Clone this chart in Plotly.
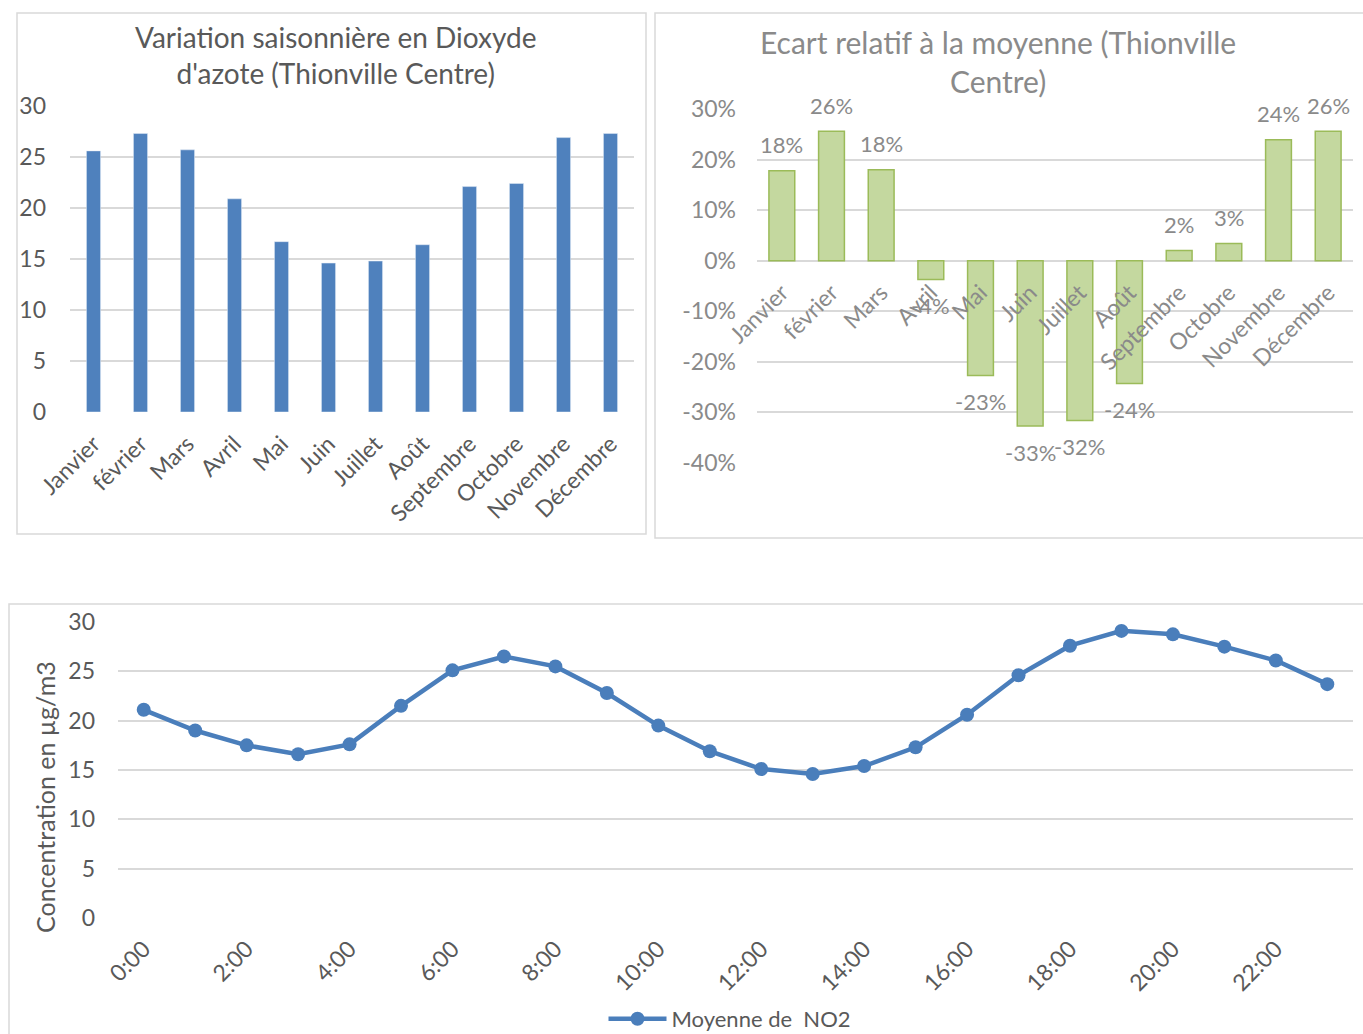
import plotly.graph_objects as go

# ---- data ----
months = ["Janvier", "février", "Mars", "Avril", "Mai", "Juin", "Juillet",
          "Août", "Septembre", "Octobre", "Novembre", "Décembre"]
no2_monthly = [25.6, 27.3, 25.7, 20.9, 16.7, 14.6, 14.8, 16.4, 22.1, 22.4, 26.9, 27.3]
rel_gap = [0.178, 0.256, 0.180, -0.037, -0.227, -0.327, -0.316, -0.243,
           0.020, 0.034, 0.239, 0.256]
rel_ticks = [0.3, 0.2, 0.1, 0.0, -0.1, -0.2, -0.3, -0.4]
rel_tick_text = ["30%", "20%", "10%", "0%", "-10%", "-20%", "-30%", "-40%"]
hours = [f"{h}:00" for h in range(24)]
no2_hourly = [21.1, 19.0, 17.5, 16.6, 17.6, 21.5, 25.1, 26.5, 25.5, 22.8, 19.5, 16.9,
              15.1, 14.6, 15.4, 17.3, 20.6, 24.6, 27.6, 29.1, 28.75, 27.5, 26.1, 23.7]
hour_ticks = [f"{h}:00" for h in range(0, 24, 2)]

title_left = "Variation saisonnière en Dioxyde<br>d'azote (Thionville Centre)"
title_right = "Ecart relatif à la moyenne (Thionville<br>Centre)"
y_title_bottom = "Concentration en µg/m3"
legend_name = "Moyenne de \u00a0NO2"

W, H = 1363, 1034
FONT = "Lato"
DARK = "#595959"
LIGHT = "#8a8a8a"
GRID = "#d9d9d9"
BLUE = "#4f81bd"


def px(x):
    return x / W


def py(y):
    return 1 - y / H


fig = go.Figure()

# top-left: monthly NO2 bars
fig.add_trace(go.Bar(x=months, y=no2_monthly, marker_color=BLUE, width=0.3,
                     xaxis="x", yaxis="y", showlegend=False))

# top-right: relative gap bars
fig.add_trace(go.Bar(x=months, y=rel_gap, marker=dict(color="#c4d89f",
                     line=dict(color="#9bbb59", width=1.5)), width=0.52,
                     xaxis="x2", yaxis="y2", showlegend=False))

# bottom: hourly profile
fig.add_trace(go.Scatter(x=hours, y=no2_hourly, mode="lines+markers", name=legend_name,
                         line=dict(color="#4a7ebb", width=4.5),
                         marker=dict(size=14, color="#4a7ebb"),
                         xaxis="x3", yaxis="y3"))

dom_y2 = [py(463), py(109)]
r2 = [-0.4, 0.3]
zero_pos = dom_y2[0] + (0 - r2[0]) / (r2[1] - r2[0]) * (dom_y2[1] - dom_y2[0])

tick_font = dict(family=FONT, size=23, color=DARK)
tick_font_light = dict(family=FONT, size=23, color=LIGHT)

fig.update_layout(
    width=W, height=H, margin=dict(l=0, r=0, t=0, b=0, autoexpand=False),
    paper_bgcolor="white", plot_bgcolor="white",
    font=dict(family=FONT, color=DARK),
    xaxis=dict(domain=[px(70), px(634)], anchor="y", showgrid=False, zeroline=False,
               showline=False, ticks="", tickangle=-45, tickfont=tick_font,
               ticklabelstandoff=13, automargin=False),
    yaxis=dict(domain=[py(412), py(106)], anchor="x", range=[0, 30], dtick=5,
               gridcolor=GRID, gridwidth=1.5, zeroline=False, showline=False,
               tickfont=tick_font, ticklabelstandoff=23, automargin=False),
    xaxis2=dict(domain=[px(757), px(1353)], anchor="free", position=zero_pos,
                showgrid=False, zeroline=False, showline=False, ticks="",
                tickangle=-45, tickfont=tick_font_light, ticklabelstandoff=13,
                automargin=False),
    yaxis2=dict(domain=dom_y2, anchor="x2", range=r2, tickmode="array",
                tickvals=rel_ticks, ticktext=rel_tick_text,
                gridcolor=GRID, gridwidth=1.5, zeroline=False, showline=False,
                tickfont=tick_font_light, ticklabelstandoff=20, automargin=False),
    xaxis3=dict(domain=[px(118), px(1353)], anchor="y3", showgrid=False, zeroline=False,
                showline=False, ticks="", tickangle=-45, tickmode="array",
                tickvals=hour_ticks, ticktext=hour_ticks, tickfont=tick_font,
                range=[-0.5, len(hours) - 0.5], ticklabelstandoff=12,
                automargin=False),
    yaxis3=dict(domain=[py(918), py(622)], anchor="x3", range=[0, 30], dtick=5,
                gridcolor=GRID, gridwidth=1.5, zeroline=False, showline=False,
                tickfont=tick_font, ticklabelstandoff=22, automargin=False),
    showlegend=True,
    legend=dict(x=px(730), y=py(1019), xanchor="center", yanchor="middle",
                orientation="h", font=dict(family=FONT, size=22, color=DARK),
                bgcolor="rgba(0,0,0,0)", itemwidth=58),
    bargap=0.5,
)

# panel frames
for x0, y0, x1, y1 in [(17, 13, 646, 534), (655, 13, 1366, 538), (9, 604, 1366, 1038)]:
    fig.add_shape(type="rect", xref="paper", yref="paper",
                  x0=px(x0), y0=py(y1), x1=px(x1), y1=py(y0),
                  line=dict(color=GRID, width=1.5), fillcolor="rgba(0,0,0,0)", layer="below")

# chart titles
fig.add_annotation(text=title_left, xref="paper", yref="paper", x=px(335), y=py(55),
                   showarrow=False, font=dict(family=FONT, size=28, color=DARK),
                   xanchor="center", yanchor="middle")
fig.add_annotation(text=title_right, xref="paper", yref="paper", x=px(998), y=py(61),
                   showarrow=False, font=dict(family=FONT, size=30, color=LIGHT),
                   xanchor="center", yanchor="middle")

# y title of the hourly chart
fig.add_annotation(text=y_title_bottom, xref="paper", yref="paper", x=px(45), y=py(797),
                   showarrow=False, textangle=-90,
                   font=dict(family=FONT, size=25, color=DARK),
                   xanchor="center", yanchor="middle")

# value labels of the relative gap bars
for m, v in zip(months, rel_gap):
    fig.add_annotation(text=f"{round(v * 100):.0f}%", x=m, y=v, xref="x2", yref="y2",
                       showarrow=False, font=dict(family=FONT, size=22, color=LIGHT),
                       yshift=26 if v >= 0 else -26, xanchor="center", yanchor="middle")

fig.write_html("out.html")
